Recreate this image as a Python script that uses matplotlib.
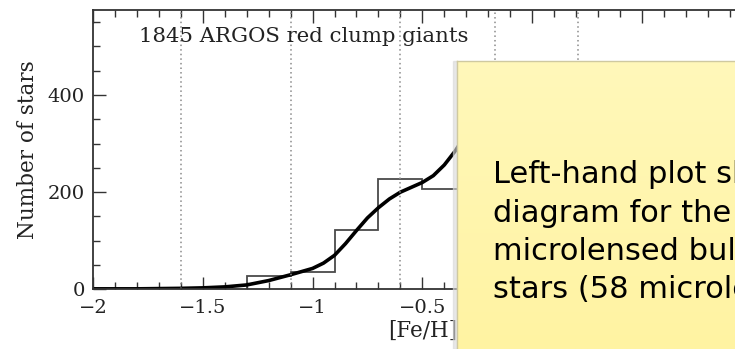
import numpy as np
import matplotlib.pyplot as plt
from matplotlib.patches import Rectangle
from matplotlib.colors import LinearSegmentedColormap

# [Fe/H] histogram of the red clump sample (bin edges and counts)
bin_edges = [-1.3, -1.1, -0.9, -0.7, -0.5, -0.3]
bin_counts = [27, 35, 122, 227, 206]

# smoothed distribution
feh = [-2.0, -1.8, -1.6, -1.5, -1.4, -1.3, -1.2, -1.1, -1.0, -0.95, -0.9, -0.85,
       -0.8, -0.75, -0.7, -0.65, -0.6, -0.55, -0.5, -0.45, -0.4, -0.35, -0.3]
density = [1, 1, 2, 3, 5, 9, 18, 30, 43, 54, 70, 94,
           121, 147, 168, 186, 200, 210, 220, 234, 256, 285, 320]

# dotted dividers
dividers = [-1.6, -1.1, -0.6, -0.17, 0.21]

title = "1845 ARGOS red clump giants"
note_lines = ["Left-hand plot shows the", "diagram for the", "microlensed bulge",
              "stars (58 microlensed"]

serif = "DejaVu Serif"
ink = "#222222"

fig = plt.figure(figsize=(7.35, 3.49), dpi=100)
ax = fig.add_axes([0.1265, 0.171, 0.8962, 0.8003])

ax.stairs(bin_counts, bin_edges, color="#4a4a4a", linewidth=1.3, baseline=0, fill=False)
ax.plot(feh, density, color="black", linewidth=2.6, solid_capstyle="round",
        solid_joinstyle="round")
for d in dividers:
    ax.axvline(d, color="#8a8a8a", linestyle=(0, (1, 2)), linewidth=1.1)

ax.set_xlim(-2, 1)
ax.set_ylim(0, 575)
ax.set_xticks([-2, -1.5, -1, -0.5, 0, 0.5, 1])
ax.set_xticklabels(["\u22122", "\u22121.5", "\u22121", "\u22120.5", "0", "0.5", "1"])
ax.set_xticks(np.arange(-2, 1.01, 0.1), minor=True)
ax.set_yticks([0, 200, 400])
ax.set_yticks(np.arange(0, 576, 50), minor=True)
ax.tick_params(which="both", direction="in", top=True, right=True, width=1.0,
               color="#333333", labelsize=14)
ax.tick_params(axis="x", which="major", pad=7)
ax.tick_params(axis="y", which="major", pad=6)
ax.tick_params(which="major", length=9)
ax.tick_params(which="minor", length=5)
for lab in ax.get_xticklabels() + ax.get_yticklabels():
    lab.set_family(serif)
    lab.set_color(ink)
for sp in ax.spines.values():
    sp.set_linewidth(1.3)
    sp.set_color("#333333")

ax.set_xlabel("[Fe/H]", family=serif, fontsize=15.5, color=ink, labelpad=2)
ax.set_ylabel("Number of stars", family=serif, fontsize=15.5, color=ink, labelpad=6)
ax.text(0.07, 0.905, title, transform=ax.transAxes, family=serif, fontsize=15.3,
        color=ink, ha="left", va="center")

# yellow note box laid over the right part of the plot
bx0, by1 = 457 / 735, 1 - 61 / 349
shadow = Rectangle((bx0 - 0.006, 0), 0.006, by1, transform=fig.transFigure,
                   color="#d8d8d8", alpha=0.6, zorder=9)
fig.add_artist(shadow)
box_ax = fig.add_axes([bx0, 0, 1 - bx0, by1], zorder=10)
grad = np.linspace(0, 1, 100).reshape(-1, 1)
box_ax.imshow(grad, aspect="auto", extent=[0, 1, 0, 1], origin="upper",
              cmap=LinearSegmentedColormap.from_list("note", ["#fff8ba", "#fff3a2"]))
box_ax.set_xlim(0, 1)
box_ax.set_ylim(0, 1)
box_ax.set_xticks([])
box_ax.set_yticks([])
for name, sp in box_ax.spines.items():
    sp.set_visible(name in ("left", "top"))
    sp.set_color("#cfc9a0")
    sp.set_linewidth(1.0)

for i, line in enumerate(note_lines):
    fig.text(493 / 735, 1 - (183 + 38.5 * i) / 349, line, family="DejaVu Sans",
             fontsize=22, color="black", ha="left", va="baseline", zorder=11)

fig.savefig("out.png", dpi=100)
